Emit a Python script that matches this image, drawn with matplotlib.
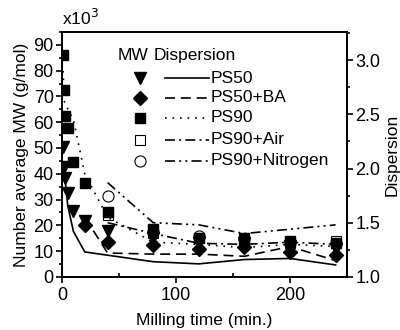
import matplotlib
matplotlib.use("Agg")
import matplotlib.pyplot as plt
from matplotlib.ticker import MultipleLocator

plt.rcParams['font.family'] = ['Liberation Sans', 'DejaVu Sans']
plt.rcParams['font.size'] = 12.5

# milling time (min.)
t_all = [1, 2, 3, 5, 10, 20, 40, 80, 120, 160, 200, 240]
t_20 = [20, 40, 80, 120, 160, 200, 240]
t_40 = [40, 80, 120, 160, 200, 240]

# number average MW (x10^3 g/mol)
mw_ps50 = [50.4, 42.6, 38.4, 32.5, 25.5, 21.5, 17.8, 15, 13, 13, 12, 11]
mw_ps50ba = [20, 13.6, 12.5, 11, 11.5, 9.5, 8.5]
mw_ps90 = [86, 72.5, 62.4, 57.8, 44.6, 36.4, 25, 18.5, 15, 15, 14, 13]
mw_ps90air = [24, 17, 15, 14, 13, 14]
mw_ps90n2 = [31.5, 17.5, 16, 14.5, 13, 13]

# dispersion
d_ps50 = [2.0, 1.95, 1.87, 1.66, 1.42, 1.23, 1.2, 1.14, 1.12, 1.16, 1.17, 1.11]
d_ps50ba = [1.55, 1.22, 1.21, 1.21, 1.19, 1.28, 1.15]
d_ps90 = [2.9, 2.62, 2.6, 2.55, 2.45, 1.95, 1.55, 1.32, 1.3, 1.27, 1.3, 1.28]
d_ps90air = [1.5, 1.4, 1.31, 1.3, 1.32, 1.3]
d_ps90n2 = [1.87, 1.5, 1.48, 1.4, 1.44, 1.48]

labels = ["PS50", "PS50+BA", "PS90", "PS90+Air", "PS90+Nitrogen"]

fig = plt.figure(figsize=(4, 3.3), dpi=100)
ax = fig.add_axes([0.155, 0.161, 0.7125, 0.742])
ax2 = ax.twinx()

ms = 8
mk = [dict(marker='v', color='k', ms=ms + 1),
      dict(marker='D', color='k', ms=ms - 1),
      dict(marker='s', color='k', ms=ms - 0.5),
      dict(marker='s', mfc='white', mec='k', ms=ms - 0.5, mew=0.8),
      dict(marker='o', mfc='white', mec='k', ms=ms, mew=0.8)]
ls = ['-', (0, (6, 3.5)), (0, (1, 3.5)), (0, (6, 2.5, 1.2, 2.5)),
      (0, (6, 2.5, 1.2, 2.5, 1.2, 2.5))]

ax.plot(t_40, mw_ps90n2, ls='none', **mk[4])
ax.plot(t_40, mw_ps90air, ls='none', **mk[3])
ax.plot(t_all, mw_ps90, ls='none', **mk[2])
ax.plot(t_20, mw_ps50ba, ls='none', **mk[1])
ax.plot(t_all, mw_ps50, ls='none', **mk[0])

lw = 1.2
ax2.plot(t_all, d_ps50, color='k', lw=lw, ls=ls[0])
ax2.plot(t_20, d_ps50ba, color='k', lw=lw, ls=ls[1])
ax2.plot(t_all, d_ps90, color='k', lw=lw, ls=ls[2])
ax2.plot(t_40, d_ps90air, color='k', lw=lw, ls=ls[3])
ax2.plot(t_40, d_ps90n2, color='k', lw=lw, ls=ls[4])

ax.set_xlim(0, 250)
ax.set_ylim(0, 95)
ax2.set_ylim(1.0, 3.26)

ax.xaxis.set_major_locator(MultipleLocator(100))
ax.xaxis.set_minor_locator(MultipleLocator(50))
ax.yaxis.set_major_locator(MultipleLocator(10))
ax.yaxis.set_minor_locator(MultipleLocator(5))
ax2.yaxis.set_major_locator(MultipleLocator(0.5))
ax2.yaxis.set_minor_locator(MultipleLocator(0.25))
ax2.yaxis.set_major_formatter(matplotlib.ticker.FormatStrFormatter('%.1f'))

ax.tick_params(axis='x', which='major', direction='out', length=4, width=1.2, labelsize=13, pad=3)
ax.tick_params(axis='x', which='minor', direction='in', length=3, width=1.2)
ax.tick_params(axis='y', which='major', direction='out', length=4, width=1.2, labelsize=13, pad=2)
ax.tick_params(axis='y', which='minor', direction='out', length=2.5, width=1.2)
ax2.tick_params(axis='y', which='major', direction='out', length=4, width=1.2, labelsize=13, pad=2)
ax2.tick_params(axis='y', which='minor', direction='out', length=2.5, width=1.2)
for a in (ax, ax2):
    for sp in a.spines.values():
        sp.set_linewidth(1.3)

ax.set_xlabel("Milling time (min.)", fontsize=12.5, labelpad=7)
ax.set_ylabel("Number average MW (g/mol)", fontsize=12.5, labelpad=3)
ax2.set_ylabel("Dispersion", fontsize=12.5, labelpad=3)
ax.text(0.0, 1.015, r"x10$^3$", transform=ax.transAxes, fontsize=12.5,
        ha='left', va='bottom')

# legend built by hand: markers column + line column
ax.text(0.25, 0.906, "MW", transform=ax.transAxes, fontsize=12.5, ha='center', va='center')
ax.text(0.322, 0.906, "Dispersion", transform=ax.transAxes, fontsize=12.5, ha='left', va='center')
rows = [0.812, 0.731, 0.650, 0.561, 0.474]
for i, lab in enumerate(labels):
    y = rows[i]
    ax.plot([0.274], [y], transform=ax.transAxes, clip_on=False, ls='none', **mk[i])
    ax.plot([0.361, 0.515], [y, y], transform=ax.transAxes, color='k', lw=lw, ls=ls[i])
    ax.text(0.521, y, lab, transform=ax.transAxes, fontsize=12.5, ha='left', va='center')

fig.savefig("out.png", dpi=100)
